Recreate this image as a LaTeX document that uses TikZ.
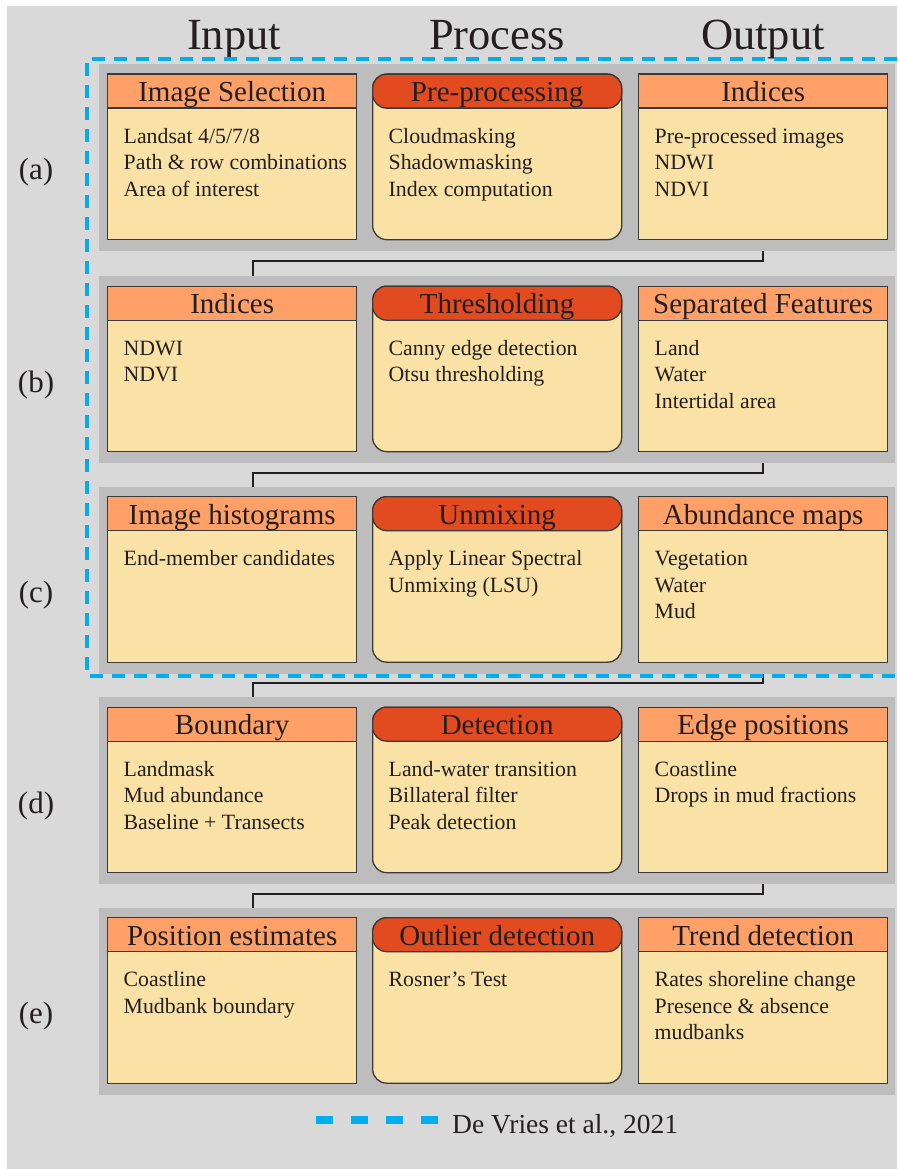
\documentclass[tikz,border=0pt]{standalone}
\usepackage{fontspec}
\setmainfont{Liberation Serif}
\usepackage{tikz}
\definecolor{ink}{HTML}{231F20}
\definecolor{frame}{HTML}{3A3A3A}
\definecolor{paper}{HTML}{D9D9D9}
\definecolor{rowgray}{HTML}{BDBDBD}
\definecolor{cream}{HTML}{FAE2A6}
\definecolor{peach}{HTML}{FFA068}
\definecolor{vermil}{HTML}{E24A20}
\definecolor{cyanblue}{HTML}{00AEEF}
\tikzset{
  band/.style={rectangle, fill=rowgray, anchor=north west, inner sep=0pt,
               minimum width=796pt, minimum height=187pt},
  iobody/.style={rectangle, draw=frame, fill=cream, line width=1.3pt, anchor=north west,
                 inner sep=0pt, minimum width=249pt, minimum height=165.5pt},
  procbody/.style={iobody, rounded corners=14pt},
  iohead/.style={rectangle, draw=frame, fill=peach, line width=1.3pt, anchor=north,
                 inner sep=0pt, minimum width=249pt, minimum height=34pt,
                 text height=27.5pt, text depth=6.5pt, text=ink,
                 font=\fontsize{29}{31}\selectfont},
  prochead/.style={iohead, fill=vermil, rounded corners=14pt},
  bodytext/.style={anchor=north west, inner sep=0pt, align=left, text=ink,
                   font=\fontsize{21.8}{26.6}\selectfont},
  colhead/.style={anchor=base, text=ink, font=\fontsize{44.5}{46}\selectfont},
  rowlbl/.style={anchor=base, text=ink, font=\fontsize{31}{33}\selectfont},
  link/.style={draw=ink, line width=2pt},
  devframe/.style={draw=cyanblue, line width=4pt, dash pattern=on 13pt off 9pt},
  devkey/.style={draw=cyanblue, line width=8pt, dash pattern=on 17pt off 18pt},
}
% name, top-left corner, io/proc, title, lines
\newcommand{\stage}[5]{%
  \node[#3body] (#1) at #2 {};
  \node[#3head] (#1-head) at (#1.north) {#4};
  \node[bodytext] (#1-text) at ([shift={(16.5,18.5)}]#1-head.south west) {\rule{0pt}{15.5pt}#5};
}

\begin{document}
\begin{tikzpicture}[x=1pt,y=-1pt]
\useasboundingbox (0,0) rectangle (897,1169);
\fill[paper] (7,6) rectangle (897,1169);

\node[colhead] (hin)   at (234,50) {Input};
\node[colhead] (hpro)  at (497,50) {Process};
\node[colhead] (hout)  at (763,50) {Output};

\node[band] (banda) at (99,64)    {};
\node[band] (bandb) at (99,276)   {};
\node[band] (bandc) at (99,486.5) {};
\node[band] (bandd) at (99,697)   {};
\node[band] (bande) at (99,907.5) {};

\node[rowlbl] (la) at (36,180)    {(a)};
\node[rowlbl] (lb) at (36,392)    {(b)};
\node[rowlbl] (lc) at (36,602.5)  {(c)};
\node[rowlbl] (ld) at (36,813)    {(d)};
\node[rowlbl] (le) at (36,1023.5) {(e)};

\stage{aIn}{(107,73.5)}{io}{Image Selection}{Landsat 4/5/7/8\\Path \& row combinations\\Area of interest}
\stage{aPro}{(372,73.5)}{proc}{Pre-processing}{Cloudmasking\\Shadowmasking\\Index computation}
\stage{aOut}{(638,73.5)}{io}{Indices}{Pre-processed images\\NDWI\\NDVI}

\stage{bIn}{(107,285.5)}{io}{Indices}{NDWI\\NDVI}
\stage{bPro}{(372,285.5)}{proc}{Thresholding}{Canny edge detection\\Otsu thresholding}
\stage{bOut}{(638,285.5)}{io}{Separated Features}{Land\\Water\\Intertidal area}

\stage{cIn}{(107,496)}{io}{Image histograms}{End-member candidates}
\stage{cPro}{(372,496)}{proc}{Unmixing}{Apply Linear Spectral\\Unmixing (LSU)}
\stage{cOut}{(638,496)}{io}{Abundance maps}{Vegetation\\Water\\Mud}

\stage{dIn}{(107,706.5)}{io}{Boundary}{Landmask\\Mud abundance\\Baseline + Transects}
\stage{dPro}{(372,706.5)}{proc}{Detection}{Land-water transition\\Billateral filter\\Peak detection}
\stage{dOut}{(638,706.5)}{io}{Edge positions}{Coastline\\Drops in mud fractions}

\stage{eIn}{(107,917)}{io}{Position estimates}{Coastline\\Mudbank boundary}
\stage{ePro}{(372,917)}{proc}{Outlier detection}{Rosner’s Test}
\stage{eOut}{(638,917)}{io}{Trend detection}{Rates shoreline change\\Presence \& absence\\mudbanks}

\foreach \u/\v in {a/b,b/c,c/d,d/e}
  \draw[link] (\u Out.south |- band\u.south) -- ++(0,9.5) -| ([xshift=20.5pt]\v In.north |- band\v.north);

\draw[devframe] (897,59) -- (87,59) -- (87,676) -- (897,676);

\node[anchor=base west, inner sep=0pt, text=ink, font=\fontsize{27.5}{29}\selectfont] (legend) at (452,1133) {De Vries et al., 2021};
\draw[devkey] (316,1120) -- (438,1120);
\end{tikzpicture}
\end{document}
